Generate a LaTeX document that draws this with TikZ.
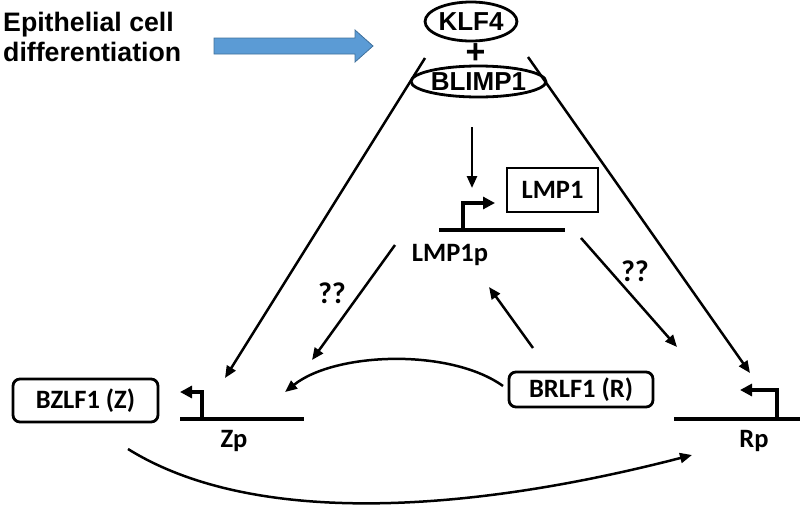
\documentclass[tikz,border=0pt]{standalone}
\usepackage{fontspec}
\usetikzlibrary{arrows.meta,shapes.geometric}
\newfontfamily\arialb[BoldFont={* Bold}]{Liberation Sans}
\newfontfamily\calib[BoldFont={* Bold}]{Carlito}
\definecolor{arrowblue}{HTML}{5B9BD5}
\definecolor{arrowedge}{HTML}{41719C}
\tikzset{
  conn/.style={line width=2.5pt,-{Triangle[length=12pt,width=10pt]}},
  prom/.style={line width=3.8pt},
  promarr/.style={line width=3.5pt,-{Triangle[length=12pt,width=12pt]}},
  oval/.style={ellipse,draw,line width=2.8pt,inner sep=0pt,font=\arialb\bfseries\fontsize{26}{28}\selectfont},
  gbox/.style={draw,line width=2.8pt,inner sep=0pt,font=\calib\bfseries\fontsize{26.5}{28}\selectfont},
  lbl/.style={inner sep=0pt,font=\calib\bfseries\fontsize{26.5}{28}\selectfont},
}
\begin{document}
\begin{tikzpicture}[x=1pt,y=-1pt]
\useasboundingbox (0,0) rectangle (800,512);
% left text
\node[anchor=north west,align=left,inner sep=0pt,font=\arialb\bfseries\fontsize{26.7}{30}\selectfont] (epi) at (3,12) {Epithelial cell\\differentiation};
% blue block arrow
\draw[fill=arrowblue,draw=arrowedge,line width=0.8pt] (214,38) -- (355,38) -- (355,30) -- (373,46) -- (355,62) -- (355,54) -- (214,54) -- cycle;
% KLF4 + BLIMP1
\node[oval,minimum width=84pt,minimum height=39pt] (klf) at (471,21.5) {KLF4};
\node[inner sep=0pt,font=\arialb\bfseries\fontsize{34}{34}\selectfont] (plus) at (475.5,54) {+};
\node[oval,minimum width=111pt,minimum height=31pt] (blimp) at (478.5,81.5) {BLIMP1};
% LMP1
\node[gbox,minimum width=91pt,minimum height=44pt] (lmp) at (552.5,190) {LMP1};
\coordinate (lmpL) at (439,230);
\coordinate (lmpR) at (565,230);
\coordinate (lmpB) at (463,230);
\coordinate (lmpT) at (495,203);
\draw[prom] (lmpL) -- (lmpR);
\draw[promarr] (lmpB) |- (lmpT);
\node[lbl] (lmpp) at (450,255) {LMP1p};
% BZLF1 / Zp
\node[gbox,rounded corners=7pt,minimum width=145pt,minimum height=43pt] (bz) at (85.5,400.5) {BZLF1 (Z)};
\coordinate (zL) at (180,419);
\coordinate (zR) at (304,419);
\coordinate (zB) at (202,419);
\coordinate (zT) at (180,392);
\draw[prom] (zL) -- (zR);
\draw[promarr] (zB) |- (zT);
\node[lbl] (zp) at (234,441) {Zp};
% BRLF1 / Rp
\node[gbox,rounded corners=7pt,minimum width=144pt,minimum height=35pt] (br) at (581,389.5) {BRLF1 (R)};
\coordinate (rL) at (674,419);
\coordinate (rR) at (800,419);
\coordinate (rB) at (777,419);
\coordinate (rT) at (740,390);
\draw[prom] (rL) -- (rR);
\draw[promarr] (rB) |- (rT);
\node[lbl] (rp) at (754,441) {Rp};
% connectors
\coordinate (a1s) at (425,58);
\coordinate (a1e) at (225,378);
\draw[conn] (a1s) -- (a1e);
\coordinate (a2s) at (528,57);
\coordinate (a2e) at (750,373);
\draw[conn] (a2s) -- (a2e);
\coordinate (a3s) at (472,127);
\coordinate (a3e) at (472,188);
\draw[conn] (a3s) -- (a3e);
\coordinate (a4s) at (395,245);
\coordinate (a4e) at (312,360);
\draw[conn] (a4s) -- (a4e);
\node[lbl,font=\calib\bfseries\fontsize{30}{30}\selectfont] (q1) at (332,293) {??};
\coordinate (a5s) at (581,238);
\coordinate (a5e) at (677,347);
\draw[conn] (a5s) -- (a5e);
\node[lbl,font=\calib\bfseries\fontsize{30}{30}\selectfont] (q2) at (635,271) {??};
\coordinate (a6s) at (533,348);
\coordinate (a6e) at (489,287);
\draw[conn] (a6s) -- (a6e);
\coordinate (a7s) at (503,386);
\coordinate (a7e) at (285,392);
\draw[conn] (a7s) .. controls (450,348) and (335,352) .. (a7e);
\coordinate (a8s) at (128,449);
\coordinate (a8e) at (692,455);
\draw[conn] (a8s) .. controls (250,525) and (460,515) .. (a8e);
\end{tikzpicture}
\end{document}
